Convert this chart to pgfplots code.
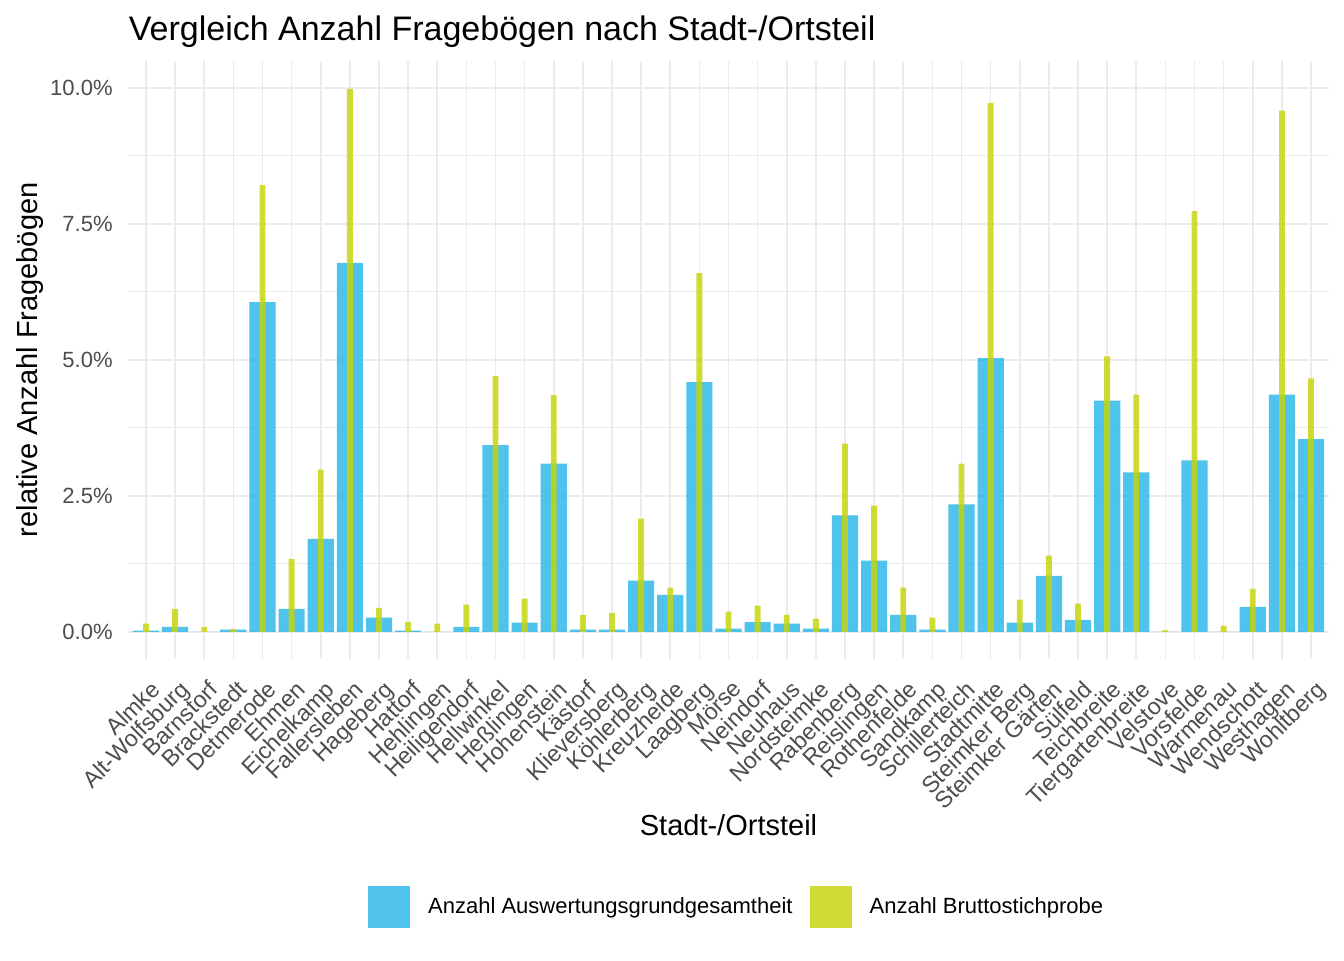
\documentclass[border=0pt]{standalone}
\usepackage{fontspec}
\setmainfont{Liberation Sans}
\usepackage{pgfplots}
\usepackage{pgfplotstable}
\pgfplotsset{compat=1.18}
\definecolor{cblue}{HTML}{29B6E9}
\definecolor{cyel}{HTML}{C8D40A}
\definecolor{gridc}{HTML}{EBEBEB}
\definecolor{tickc}{HTML}{4D4D4D}

\pgfplotstableread{
x b y
1 0.02 0.15
2 0.09 0.42
3 0.00 0.09
4 0.04 0.05
5 6.06 8.21
6 0.42 1.34
7 1.71 2.98
8 6.78 9.98
9 0.26 0.44
10 0.02 0.18
11 0.00 0.15
12 0.09 0.50
13 3.43 4.70
14 0.17 0.61
15 3.09 4.35
16 0.04 0.31
17 0.04 0.35
18 0.94 2.08
19 0.68 0.81
20 4.59 6.59
21 0.06 0.37
22 0.18 0.48
23 0.15 0.31
24 0.06 0.24
25 2.14 3.46
26 1.31 2.32
27 0.31 0.81
28 0.04 0.26
29 2.34 3.09
30 5.03 9.72
31 0.17 0.59
32 1.03 1.40
33 0.22 0.52
34 4.25 5.06
35 2.93 4.36
36 0.00 0.03
37 3.15 7.73
38 0.00 0.11
39 0.46 0.79
40 4.36 9.58
41 3.54 4.66
}\data

\begin{document}
\begin{tikzpicture}
\fill[white] (0,0) rectangle (672pt,480pt);
\useasboundingbox (0,0) rectangle (672pt,480pt);
\begin{axis}[
 at={(64.25pt,150.5pt)}, anchor=south west,
 scale only axis, width=600pt, height=299.25pt,
 xmin=0.4, xmax=41.6, ymin=-0.5, ymax=10.5,
 axis line style={draw=none},
 major tick length=0pt, minor tick length=0pt,
 tick style={draw=none},
 xtick={1,...,41},
 xticklabels={Almke,Alt-Wolfsburg,Barnstorf,Brackstedt,Detmerode,Ehmen,Eichelkamp,Fallersleben,Hageberg,Hattorf,Hehlingen,Heiligendorf,Hellwinkel,Heßlingen,Hohenstein,Kästorf,Klieversberg,Köhlerberg,Kreuzheide,Laagberg,Mörse,Neindorf,Neuhaus,Nordsteimke,Rabenberg,Reislingen,Rothenfelde,Sandkamp,Schillerteich,Stadtmitte,Steimker Berg,Steimker Gärten,Sülfeld,Teichbreite,Tiergartenbreite,Velstove,Vorsfelde,Warmenau,Wendschott,Westhagen,Wohltberg},
 ytick={0,2.5,5,7.5,10},
 yticklabels={0.0\%,2.5\%,5.0\%,7.5\%,10.0\%},
 minor ytick={1.25,3.75,6.25,8.75},
 xmajorgrids, ymajorgrids, yminorgrids,
 major grid style={gridc, line width=0.8pt},
 minor grid style={gridc, line width=0.55pt},
 xticklabel style={xshift=1.66pt, yshift=-9.9pt, rotate=45, anchor=north east, inner sep=0pt, text=tickc, font=\fontsize{11.6}{13}\selectfont},
 yticklabel style={anchor=east, inner sep=0pt, xshift=-7.75pt, text=tickc, font=\fontsize{11}{13}\selectfont},
 xlabel={Stadt-/Ortsteil},
 ylabel={relative Anzahl Fragebögen},
 xlabel style={at={(axis description cs:0.5,-0.2774)}, anchor=center, font=\fontsize{14.5}{17}\selectfont},
 ylabel style={at={(axis description cs:-0.0821,0.5)}, anchor=center, font=\fontsize{14.5}{17}\selectfont},
 title={Vergleich Anzahl Fragebögen nach Stadt-/Ortsteil},
 title style={at={(axis description cs:0,1)}, anchor=base west, yshift=4.25pt, inner sep=0pt, font=\fontsize{17}{20}\selectfont},
 legend columns=2,
 legend style={at={(axis description cs:0.506,-0.414)}, anchor=center, draw=none, fill=none,
   font=\fontsize{11}{13}\selectfont, nodes={inner sep=0pt},
   /tikz/every odd column/.style={column sep=9pt},
   /tikz/every even column/.style={column sep=8.5pt}},
]
\addplot[ybar, bar width=0.9, bar shift=0pt, fill=cblue, fill opacity=0.82, draw=none,
  legend image code/.code={\fill[cblue] (0pt,-10.5pt) rectangle (21pt,10.5pt);}]
  table[x=x, y=b] {\data};
\addlegendentry{Anzahl Auswertungsgrundgesamtheit}
\addplot[ybar, bar width=0.2, bar shift=0pt, fill=cyel, fill opacity=0.82, draw=none,
  legend image code/.code={\fill[cyel] (0pt,-10.5pt) rectangle (21pt,10.5pt);}]
  table[x=x, y=y] {\data};
\addlegendentry{Anzahl Bruttostichprobe}
\end{axis}
\end{tikzpicture}
\end{document}
